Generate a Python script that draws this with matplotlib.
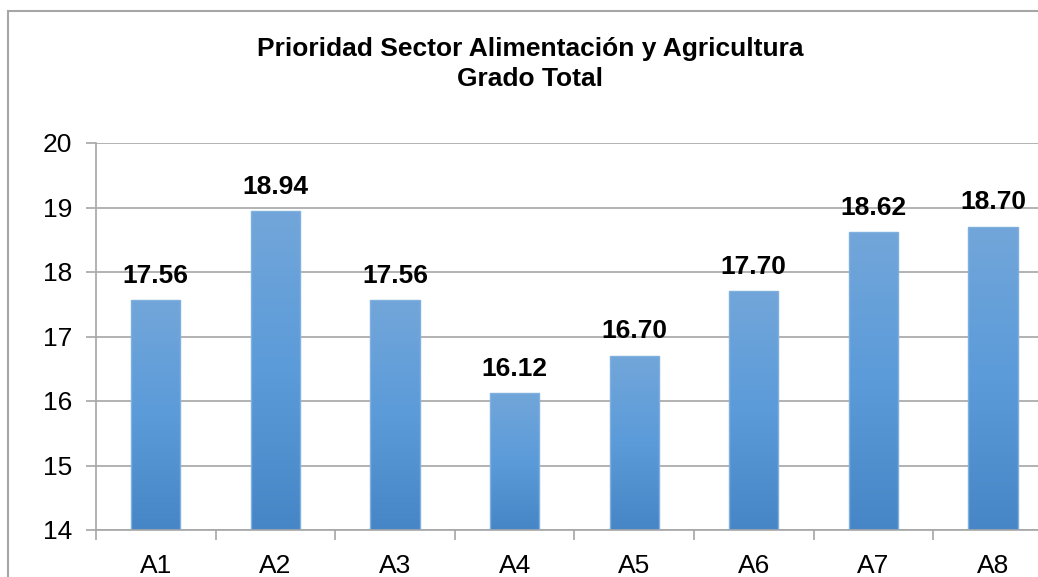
import matplotlib
matplotlib.use("Agg")
import matplotlib.pyplot as plt
import numpy as np
from matplotlib.patches import Rectangle
from matplotlib.colors import LinearSegmentedColormap

categories = ["A1", "A2", "A3", "A4", "A5", "A6", "A7", "A8"]
values = [17.56, 18.94, 17.56, 16.12, 16.70, 17.70, 18.62, 18.70]
labels = ["17.56", "18.94", "17.56", "16.12", "16.70", "17.70", "18.62", "18.70"]
yticks = [14, 15, 16, 17, 18, 19, 20]

plt.rcParams['font.family'] = ['Liberation Sans', 'DejaVu Sans']

W, H = 1038, 577
fig = plt.figure(figsize=(W / 100, H / 100), dpi=100)
fig.patch.set_facecolor("white")

# outer chart border
fig.patches.append(Rectangle((8 / W, -0.05), 1.1, 1 - 11 / H + 0.05, transform=fig.transFigure,
                             fill=False, edgecolor="#a6a6a6", linewidth=1.5, zorder=0))

left_px, right_px = 96, 96 + 8 * 119.6
top_px, bottom_px = 143, 530
ax = fig.add_axes([left_px / W, 1 - bottom_px / H, (right_px - left_px) / W, (bottom_px - top_px) / H])
ax.set_facecolor("none")

x = np.arange(len(categories))
bars = ax.bar(x, values, width=0.41, bottom=0, color="none", edgecolor="#7fb0e0", linewidth=1.0, zorder=3)

cmap = LinearSegmentedColormap.from_list("g", ["#4686c6", "#5b9bd9", "#72a6da"])
grad = np.linspace(0, 1, 256).reshape(-1, 1)
for b in bars:
    x0, w, h = b.get_x(), b.get_width(), b.get_height()
    im = ax.imshow(grad, cmap=cmap, aspect="auto", origin="lower",
                   extent=[x0, x0 + w, 14, h], zorder=2)
    im.set_clip_path(b)

for xi, v, lab in zip(x, values, labels):
    ax.annotate(lab, (xi, v), xytext=(0, 9), textcoords="offset points",
                ha="center", va="bottom", fontsize=19, fontweight="bold", color="black")

ax.set_xlim(-0.5, len(categories) - 0.5)
ax.set_ylim(14, 20)
ax.set_yticks(yticks)
ax.set_yticklabels([str(t) for t in yticks], fontsize=19)
ax.set_xticks(x)
ax.set_xticklabels(categories, fontsize=19)
ax.set_xticks(np.arange(len(categories) + 1) - 0.5, minor=True)
ax.tick_params(axis="x", which="major", length=0, pad=17)
ax.tick_params(axis="x", which="minor", length=7, color="#a6a6a6", width=1.2)
ax.tick_params(axis="y", length=7, color="#a6a6a6", width=1.2, pad=10)

ax.grid(axis="y", color="#a6a6a6", linewidth=1.2, zorder=0)
ax.set_axisbelow(True)
for s in ["top", "right"]:
    ax.spines[s].set_visible(False)
for s in ["left", "bottom"]:
    ax.spines[s].set_color("#a6a6a6")
    ax.spines[s].set_linewidth(1.2)

fig.text(530 / W, 1 - 49 / H, "Prioridad Sector Alimentación y Agricultura",
         ha="center", va="center", fontsize=19, fontweight="bold")
fig.text(530 / W, 1 - 79 / H, "Grado Total",
         ha="center", va="center", fontsize=19, fontweight="bold")

fig.savefig("out.png", dpi=100, facecolor="white")
